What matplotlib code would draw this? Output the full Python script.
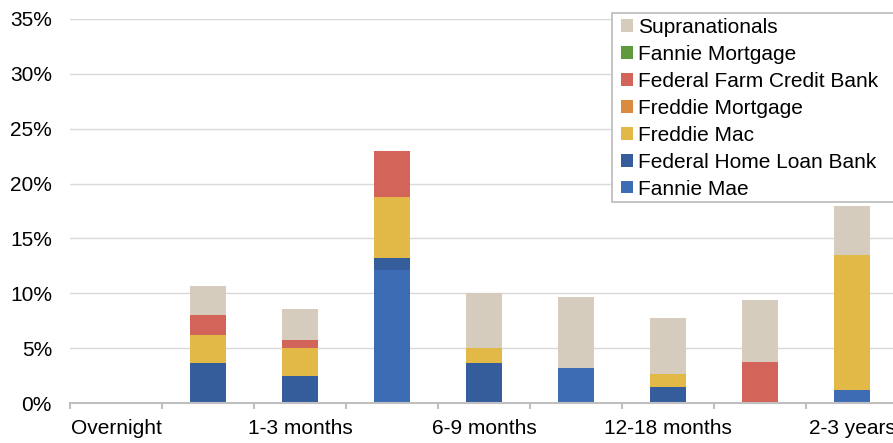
import matplotlib
matplotlib.use("Agg")
import matplotlib.pyplot as plt
from matplotlib.patches import Rectangle, Patch
from matplotlib.ticker import FuncFormatter, FixedLocator

plt.rcParams['font.family'] = ['Liberation Sans', 'DejaVu Sans']

categories = ["Overnight", "Under 1 month", "1-3 months", "3-6 months", "6-9 months",
              "9-12 months", "12-18 months", "18-24 months", "2-3 years"]
tick_labels = ["Overnight", "1-3 months", "6-9 months", "12-18 months", "2-3 years"]

fannie_mae       = [0, 0.00, 0.00, 12.10, 0.00, 3.20, 0.00, 0.00, 1.20]
fhlb             = [0, 3.70, 2.45, 1.15, 3.70, 0.00, 1.50, 0.00, 0.00]
freddie_mac      = [0, 2.55, 2.55, 5.50, 1.30, 0.00, 1.20, 0.00, 12.30]
freddie_mortgage = [0, 0, 0, 0, 0, 0, 0, 0, 0]
ffcb             = [0, 1.75, 0.75, 4.25, 0.00, 0.00, 0.00, 3.80, 0.00]
fannie_mortgage  = [0, 0, 0, 0, 0, 0, 0, 0, 0]
supranationals   = [0, 2.65, 2.80, 0.00, 5.05, 6.50, 5.10, 5.60, 4.50]

series_names = ["Fannie Mae", "Federal Home Loan Bank", "Freddie Mac", "Freddie Mortgage",
                "Federal Farm Credit Bank", "Fannie Mortgage", "Supranationals"]
series_values = [fannie_mae, fhlb, freddie_mac, freddie_mortgage, ffcb, fannie_mortgage, supranationals]
colors = ["#3E6CB4", "#355D9C", "#E2B846", "#DA8B40", "#D2645A", "#5F9A3E", "#D6CCBD"]

W, H = 893, 443
fig = plt.figure(figsize=(W / 100, H / 100), dpi=100)
ax = fig.add_axes([70 / W, 1 - 403.3 / H, (898 - 70) / W, (403.3 - 18.7) / H])

x = list(range(len(categories)))
bottom = [0.0] * len(categories)
for name, vals, c in zip(series_names, series_values, colors):
    ax.bar(x, vals, width=0.40, bottom=bottom, color=c, label=name, zorder=3, linewidth=0)
    bottom = [b + v for b, v in zip(bottom, vals)]

ax.set_xlim(-0.5, len(categories) - 0.5)
ax.set_ylim(0, 35)
ax.set_yticks(range(0, 36, 5))
ax.yaxis.set_major_formatter(FuncFormatter(lambda v, p: f"{int(v)}%"))
ax.grid(axis='y', color='#D9D9D9', linewidth=1.0, zorder=0)
ax.set_axisbelow(True)

for s in ['top', 'right', 'left']:
    ax.spines[s].set_visible(False)
ax.spines['bottom'].set_color('#BFBFBF')
ax.spines['bottom'].set_linewidth(1.5)
ax.spines['bottom'].set_zorder(4)

# boundaries as major ticks, labels as minor ticks at every other category
ax.xaxis.set_major_locator(FixedLocator([i - 0.5 for i in range(len(categories) + 1)]))
ax.set_xticklabels([])
ax.xaxis.set_minor_locator(FixedLocator(x[::2]))
ax.set_xticklabels(tick_labels, minor=True)
ax.tick_params(axis='x', which='major', length=4, width=1.5, color='#BFBFBF', direction='out')
ax.tick_params(axis='x', which='minor', length=0, pad=11, labelsize=15, labelcolor='#000000')
ax.tick_params(axis='y', length=0, pad=13, labelsize=15, labelcolor='#000000')

# legend frame
fig.add_artist(Rectangle((611.7 / W, 1 - 201.7 / H), (905 - 611.7) / W, (201.7 - 12.7) / H,
                         transform=fig.transFigure, facecolor='white', edgecolor='#BFBFBF',
                         linewidth=1.3, zorder=4))
handles = [Patch(facecolor=c, label=n) for n, c in zip(series_names, colors)][::-1]
fig.legend(handles=handles, loc='upper left', bbox_to_anchor=(619 / W, 1 - 16 / H),
           frameon=False, fontsize=15, handlelength=0.55, handleheight=0.55,
           handletextpad=0.25, labelspacing=0.38, borderpad=0.1, borderaxespad=0)

fig.savefig("out.png", dpi=100)
